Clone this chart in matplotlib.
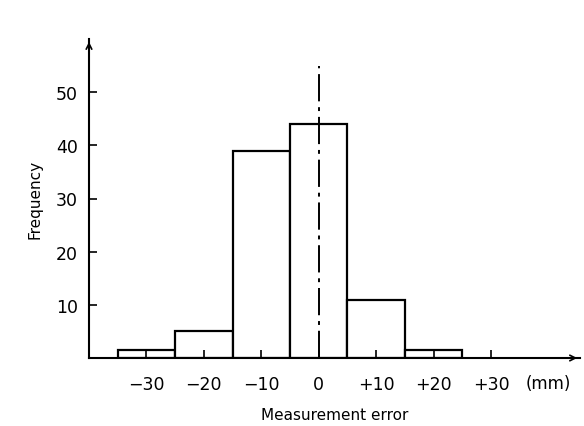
import matplotlib.pyplot as plt

# histogram of measurement errors (mm)
centers = [-30, -20, -10, 0, 10, 20]
freq = [1.5, 5, 39, 44, 11, 1.5]
xtick_pos = [-30, -20, -10, 0, 10, 20, 30]
xtick_lab = ['\u221230', '\u221220', '\u221210', '0', '+10', '+20', '+30']
ytick_pos = [10, 20, 30, 40, 50]

fig = plt.figure(figsize=(5.84, 4.27), dpi=100)
ax = fig.add_axes([89/584, (427-359)/427, (580-89)/584, (359-40)/427])

ax.bar(centers, freq, width=10, facecolor='white', edgecolor='black', linewidth=1.6, zorder=2)

# dash-dot centre line at zero
ax.plot([0, 0], [0, 55], color='black', linestyle=(0, (14, 3, 2, 3)), linewidth=1.4, zorder=3)

ax.set_xlim(-40, 45.5)
ax.set_ylim(0, 60)
ax.set_axisbelow(False)

for s in ['top', 'right']:
    ax.spines[s].set_visible(False)
for s in ['left', 'bottom']:
    ax.spines[s].set_linewidth(1.5)

# arrow heads at axis ends
ax.annotate('', xy=(0, 1.0), xytext=(0, 0.97), xycoords='axes fraction',
            arrowprops=dict(arrowstyle='->', lw=1.2, color='black'))
ax.annotate('', xy=(1.0, 0), xytext=(0.97, 0), xycoords='axes fraction',
            arrowprops=dict(arrowstyle='->', lw=1.2, color='black'))

ax.set_xticks(xtick_pos)
ax.set_xticklabels(xtick_lab)
ax.set_yticks(ytick_pos)
ax.tick_params(axis='both', direction='in', length=6, width=1.2, labelsize=12.5)
ax.tick_params(axis='x', pad=12)
ax.tick_params(axis='y', pad=8)

ax.text(40, -3.1, '(mm)', ha='center', va='top', fontsize=12)

ax.set_xlabel('Measurement error', fontsize=11, labelpad=10)
ax.set_ylabel('Frequency', fontsize=11, labelpad=10)

fig.savefig('out.png', dpi=100)
